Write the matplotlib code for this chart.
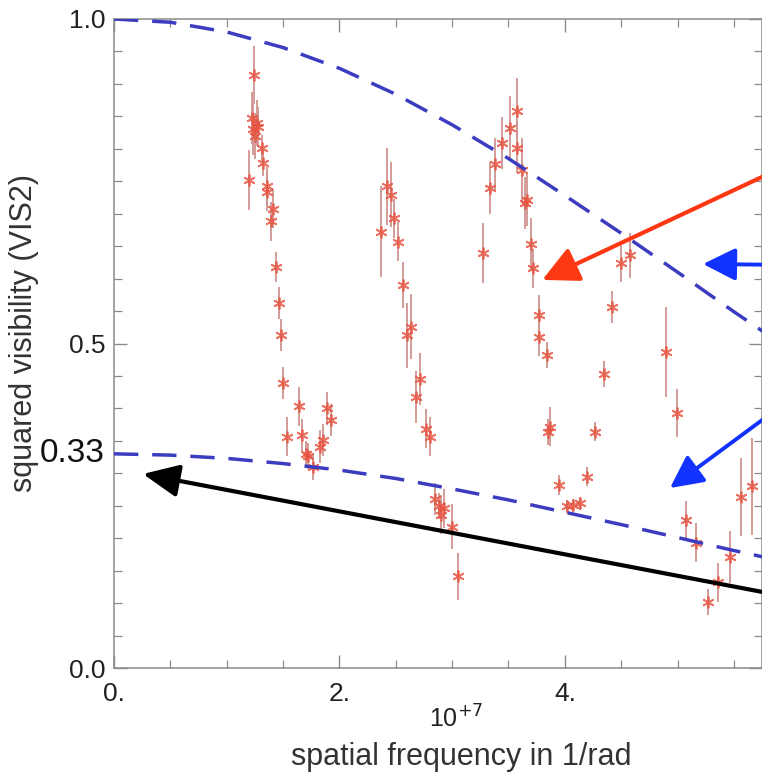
import numpy as np
import matplotlib
matplotlib.use('Agg')
import matplotlib.pyplot as plt
from matplotlib.ticker import MultipleLocator

plt.rcParams['font.family'] = ['Liberation Sans', 'DejaVu Sans']

# measured squared visibilities (spatial frequency in 1e7 /rad)
freq = [1.242, 1.222, 1.266, 1.236, 1.278, 1.251, 1.311, 1.325, 1.198, 1.355, 1.360, 1.408, 1.390,
        1.435, 1.464, 1.482, 1.502, 1.642, 1.893, 1.925, 1.532, 1.666, 1.857, 1.828, 1.724, 1.768, 1.700,
        2.420, 2.458, 2.484, 2.369, 2.517, 2.562, 2.635, 2.597, 2.715, 2.677, 2.766, 2.804, 2.848,
        2.931, 2.902, 3.002, 3.050, 2.880,
        3.573, 3.514, 3.440, 3.573, 3.381, 3.618, 3.336, 3.662, 3.647, 3.272, 3.700, 3.721, 3.774,
        3.771, 3.839, 3.869, 3.854, 3.949, 4.017, 4.076, 4.135, 4.200, 4.268,
        4.348, 4.422, 4.496, 4.578, 4.898, 4.993, 5.075, 5.164, 5.268, 5.355, 5.466, 5.563, 5.661]
vis2 = [0.914, 0.847, 0.840, 0.830, 0.834, 0.820, 0.801, 0.778, 0.752, 0.742, 0.734, 0.708, 0.688,
        0.618, 0.562, 0.513, 0.439, 0.403, 0.400, 0.382, 0.356, 0.359, 0.351, 0.341, 0.326, 0.310, 0.330,
        0.742, 0.729, 0.693, 0.672, 0.657, 0.590, 0.526, 0.513, 0.446, 0.418, 0.369, 0.356, 0.260,
        0.246, 0.236, 0.218, 0.141, 0.250,
        0.859, 0.832, 0.809, 0.802, 0.777, 0.767, 0.739, 0.721, 0.716, 0.639, 0.654, 0.616, 0.544,
        0.510, 0.482, 0.372, 0.364, 0.282, 0.249, 0.251, 0.254, 0.295, 0.364,
        0.453, 0.556, 0.624, 0.636, 0.487, 0.393, 0.228, 0.193, 0.101, 0.132, 0.171, 0.263, 0.280]
vis2_err = [0.045, 0.04, 0.035, 0.04, 0.03, 0.035, 0.02, 0.02, 0.046, 0.03, 0.03, 0.03, 0.03,
            0.023, 0.025, 0.025, 0.025, 0.03, 0.025, 0.025, 0.03, 0.025, 0.025, 0.025, 0.02, 0.02, 0.02,
            0.06, 0.05, 0.03, 0.07, 0.03, 0.035, 0.05, 0.05, 0.04, 0.04, 0.03, 0.03, 0.025,
            0.03, 0.03, 0.035, 0.036, 0.02,
            0.05, 0.05, 0.04, 0.04, 0.04, 0.05, 0.04, 0.04, 0.04, 0.046, 0.04, 0.03, 0.03,
            0.03, 0.02, 0.03, 0.02, 0.015, 0.01, 0.01, 0.01, 0.015, 0.015,
            0.02, 0.025, 0.03, 0.035, 0.07, 0.037, 0.03, 0.03, 0.02, 0.03, 0.04, 0.06, 0.075]

# model curves
model_x = [0, 0.5, 1.0, 1.5, 2.0, 2.5, 3.0, 3.5, 4.0, 4.5, 5.0, 5.5, 6.0]
model_full = [1.000, 0.995, 0.980, 0.956, 0.924, 0.884, 0.837, 0.785, 0.728, 0.670, 0.610, 0.549, 0.490]
model_third = [0.330, 0.328, 0.323, 0.315, 0.305, 0.292, 0.276, 0.259, 0.240, 0.221, 0.201, 0.181, 0.162]

fig = plt.figure(figsize=(7.62, 7.75), dpi=100)
ax = fig.add_axes([114 / 762, 107 / 775, 647.5 / 762, 649 / 775])

ax.errorbar(freq, vis2, yerr=vis2_err, fmt='none', ecolor='#d09590', elinewidth=1.3, zorder=2)
ax.plot(freq, vis2, ls='none', marker=(6, 2, 0), ms=8.5, mew=1.3, color='#e8503c', alpha=0.8, zorder=3)

ax.plot(model_x, model_full, color='#3c3cc0', lw=2.5, dashes=(7, 4), zorder=4)
ax.plot(model_x, model_third, color='#3c3cc0', lw=2.5, dashes=(7, 4), zorder=4)

ax.set_xlim(0, 5.745)
ax.set_ylim(0, 1.0)
ax.xaxis.set_minor_locator(MultipleLocator(0.5))
ax.yaxis.set_minor_locator(MultipleLocator(0.05))
ax.set_xticks([0, 2, 4])
ax.set_xticklabels(['0.', '2.', '4.'])
ax.set_yticks([0, 0.5, 1.0])
ax.set_yticklabels(['0.0', '0.5', '1.0'])

for s in ax.spines.values():
    s.set_color('#8a8a8a')
    s.set_linewidth(1.1)
ax.tick_params(which='both', direction='in', top=True, right=True, colors='#8a8a8a',
               labelcolor='#222222', labelsize=19)
ax.tick_params(which='major', length=9.5, width=1.0)
ax.tick_params(which='minor', length=6, width=0.9)
ax.tick_params(axis='x', pad=10)
ax.tick_params(axis='y', pad=6)

ax.text(-0.08, 0.33, '0.33', ha='right', va='center', fontsize=24, color='#111111')

fig.text(456 / 762, (775 - 719) / 775, '10$^{+7}$', ha='center', va='center', fontsize=18,
         color='#222222')
fig.text(461 / 762, (775 - 757) / 775, 'spatial frequency in 1/rad', ha='center', va='center',
         fontsize=22, color='#333333')
fig.text(24 / 762, (775 - 333) / 775, 'squared visibility (VIS2)', ha='center', va='center',
         rotation=90, fontsize=22, color='#333333')

# overlay arrows
arr = dict(annotation_clip=False, xycoords='data', textcoords='data')
ax.annotate('', xy=(3.80, 0.598), xytext=(6.0, 0.777), **arr,
            arrowprops=dict(arrowstyle='-|>,head_length=1.1,head_width=0.55', mutation_scale=20,
                            lw=3, color='#ff3814', shrinkA=0, shrinkB=0))
ax.annotate('', xy=(5.226, 0.6225), xytext=(6.0, 0.621), **arr,
            arrowprops=dict(arrowstyle='-|>,head_length=1.0,head_width=0.5', mutation_scale=20,
                            lw=2.8, color='#1232ff', shrinkA=0, shrinkB=0))
ax.annotate('', xy=(4.933, 0.2773), xytext=(6.0, 0.414), **arr,
            arrowprops=dict(arrowstyle='-|>,head_length=1.0,head_width=0.5', mutation_scale=20,
                            lw=2.8, color='#1232ff', shrinkA=0, shrinkB=0))
ax.annotate('', xy=(0.257, 0.299), xytext=(6.0, 0.109), **arr,
            arrowprops=dict(arrowstyle='-|>,head_length=1.1,head_width=0.5', mutation_scale=20,
                            lw=3, color='black', shrinkA=0, shrinkB=0))

fig.savefig('out.png', dpi=100)
